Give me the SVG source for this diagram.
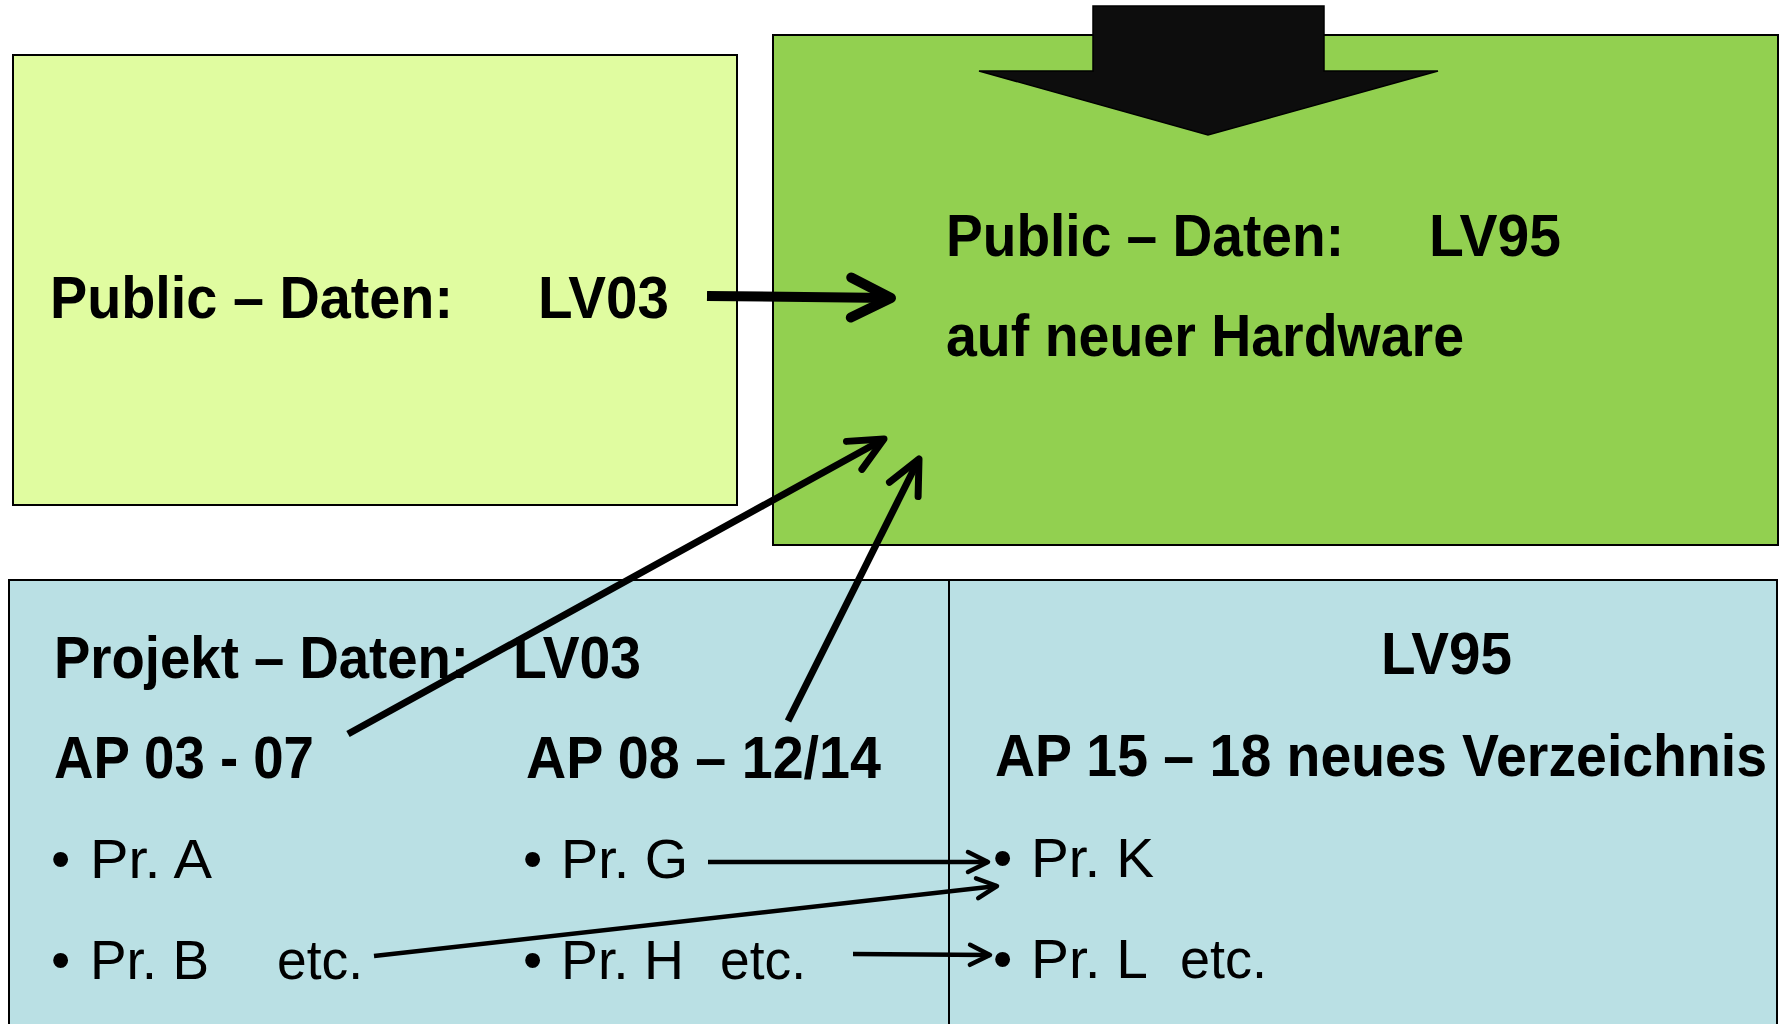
<svg xmlns="http://www.w3.org/2000/svg" width="1789" height="1024" viewBox="0 0 1789 1024">
<defs>
<style>
.box{stroke:#000;stroke-width:2}
.b{font-family:"Liberation Sans",Arial,sans-serif;font-weight:bold;font-size:59px;fill:#000}
.r{font-family:"Liberation Sans",Arial,sans-serif;font-size:55px;fill:#000}
.thick{stroke:#000;stroke-width:10;fill:none}
.mid{stroke:#000;stroke-width:7;fill:none}
.thin{stroke:#000;stroke-width:4.5;fill:none}
</style>
<marker id="hBig" markerUnits="userSpaceOnUse" orient="auto" overflow="visible" refX="0" refY="0">
<path d="M-40,-20 L0,0 L-40,20" fill="none" stroke="#000" stroke-width="10" stroke-linecap="round" stroke-linejoin="round"/>
</marker>
<marker id="hMid" markerUnits="userSpaceOnUse" orient="auto" overflow="visible" refX="0" refY="0">
<path d="M-34,-16 L0,0 L-34,16" fill="none" stroke="#000" stroke-width="7" stroke-linecap="round" stroke-linejoin="round"/>
</marker>
<marker id="hSmall" markerUnits="userSpaceOnUse" orient="auto" overflow="visible" refX="0" refY="0">
<path d="M-20,-10 L0,0 L-20,10" fill="none" stroke="#000" stroke-width="4.5" stroke-linecap="round" stroke-linejoin="round"/>
</marker>
</defs>
<rect width="1789" height="1024" fill="#fff"/>

<g id="public-lv03">
<rect class="box" x="13" y="55" width="724" height="450" fill="#E0FCA0"/>
<text class="b" x="50" y="318" textLength="403" lengthAdjust="spacingAndGlyphs">Public – Daten:</text>
<text class="b" x="538" y="318" textLength="131" lengthAdjust="spacingAndGlyphs">LV03</text>
</g>

<g id="public-lv95">
<rect class="box" x="773" y="35" width="1005" height="510" fill="#92D050"/>
<text class="b" x="946" y="256" textLength="398" lengthAdjust="spacingAndGlyphs">Public – Daten:</text>
<text class="b" x="1429" y="256" textLength="132" lengthAdjust="spacingAndGlyphs">LV95</text>
<text class="b" x="946" y="356" textLength="518" lengthAdjust="spacingAndGlyphs">auf neuer Hardware</text>
</g>

<g id="block-arrow">
<path d="M1093,6 L1324,6 L1324,71 L1438,71 L1208,135 L979,71 L1093,71 Z" fill="#0D0D0D" stroke="#000" stroke-width="1.5" stroke-linejoin="miter"/>
</g>

<g id="projekt-lv03">
<rect class="box" x="9" y="580" width="940" height="460" fill="#BAE0E4"/>
<text class="b" x="54" y="678" textLength="415" lengthAdjust="spacingAndGlyphs">Projekt – Daten:</text>
<text class="b" x="513" y="678" textLength="128" lengthAdjust="spacingAndGlyphs">LV03</text>
<text class="b" x="54" y="778" textLength="260" lengthAdjust="spacingAndGlyphs">AP 03 - 07</text>
<text class="b" x="526" y="778" textLength="355" lengthAdjust="spacingAndGlyphs">AP 08 – 12/14</text>
<text class="r" x="51" y="878">•</text>
<text class="r" x="90" y="878" textLength="122" lengthAdjust="spacingAndGlyphs">Pr. A</text>
<text class="r" x="51" y="979">•</text>
<text class="r" x="90" y="979" textLength="119" lengthAdjust="spacingAndGlyphs">Pr. B</text>
<text class="r" x="277" y="979" textLength="86" lengthAdjust="spacingAndGlyphs">etc.</text>
<text class="r" x="523" y="878">•</text>
<text class="r" x="561" y="878" textLength="127" lengthAdjust="spacingAndGlyphs">Pr. G</text>
<text class="r" x="523" y="979">•</text>
<text class="r" x="561" y="979" textLength="123" lengthAdjust="spacingAndGlyphs">Pr. H</text>
<text class="r" x="720" y="979" textLength="86" lengthAdjust="spacingAndGlyphs">etc.</text>
</g>

<g id="projekt-lv95">
<rect class="box" x="949" y="580" width="828" height="460" fill="#BAE0E4"/>
<text class="b" x="1381" y="674" textLength="131" lengthAdjust="spacingAndGlyphs">LV95</text>
<text class="b" x="995" y="776" textLength="772" lengthAdjust="spacingAndGlyphs">AP 15 – 18 neues Verzeichnis</text>
<text class="r" x="993" y="877">•</text>
<text class="r" x="1031" y="877" textLength="123" lengthAdjust="spacingAndGlyphs">Pr. K</text>
<text class="r" x="993" y="978">•</text>
<text class="r" x="1031" y="978" textLength="117" lengthAdjust="spacingAndGlyphs">Pr. L</text>
<text class="r" x="1180" y="978" textLength="87" lengthAdjust="spacingAndGlyphs">etc.</text>
</g>

<g id="connectors">
<line class="thick" x1="707" y1="296" x2="891" y2="298" marker-end="url(#hBig)"/>
<line class="mid" x1="348" y1="734" x2="884" y2="439" marker-end="url(#hMid)"/>
<line class="mid" x1="788" y1="721" x2="919" y2="459" marker-end="url(#hMid)"/>
<line class="thin" x1="708" y1="862" x2="988" y2="862" marker-end="url(#hSmall)"/>
<line class="thin" x1="374" y1="956" x2="997" y2="886" marker-end="url(#hSmall)"/>
<line class="thin" x1="853" y1="954" x2="990" y2="955" marker-end="url(#hSmall)"/>
</g>
</svg>
